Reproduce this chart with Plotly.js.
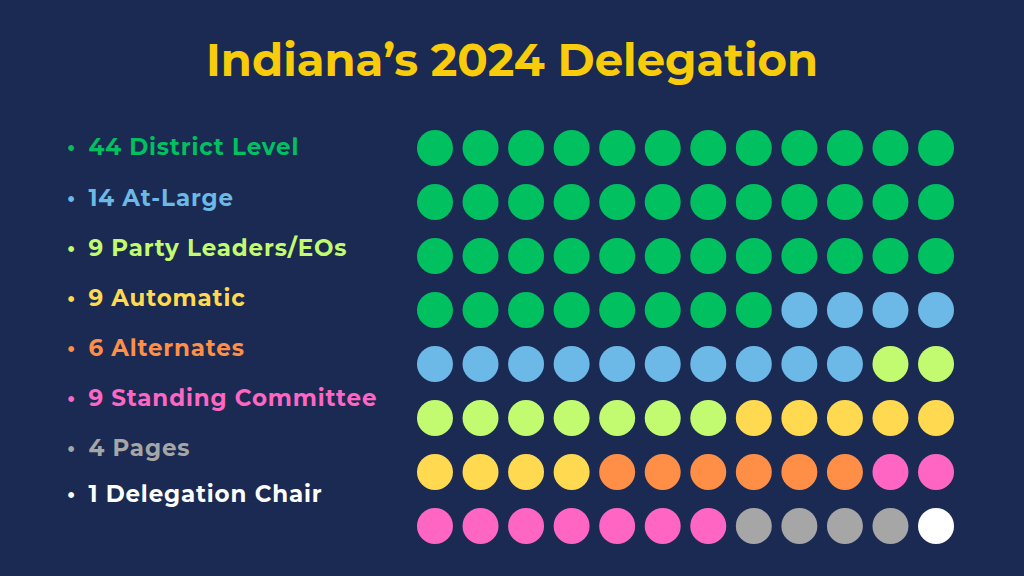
<!DOCTYPE html>
<html><head><meta charset="utf-8">
<script src="https://cdn.plot.ly/plotly-3.0.1.min.js"></script>
<style>html,body{margin:0;padding:0;background:#1a2a52;}#chart{width:1024px;height:576px;}
#chart .annotation-text{letter-spacing:0.85px;}</style>
</head><body><div id="chart"></div>
<script>
const categories = ["District Level","At-Large","Party Leaders/EOs","Automatic","Alternates","Standing Committee","Pages","Delegation Chair"];
const counts = [44,14,9,9,6,9,4,1];
const colors = ["#00c060","#6cb8e6","#c2fb70","#ffd94f","#ff8f47","#ff66c4","#a6a6a6","#ffffff"];
const columns = 12;

const traces = [];
let idx = 0;
categories.forEach((c,i)=>{
  const xs=[], ys=[];
  for(let k=0;k<counts[i];k++){ xs.push(idx%columns); ys.push(Math.floor(idx/columns)); idx++; }
  traces.push({type:'scatter',mode:'markers',x:xs,y:ys,name:c,
    marker:{size:36,color:colors[i],line:{width:0}},hoverinfo:'skip'});
});
const rows = Math.ceil(idx/columns);

const legendY = [147,198,248,298,348,398,448,494];
const annotations = categories.map((c,i)=>({
  xref:'paper',yref:'paper',x:65/1024,y:1-legendY[i]/576,xanchor:'left',yanchor:'middle',align:'left',
  text:'•\u2002'+counts[i]+' '+c,showarrow:false,
  font:{family:'Montserrat, "Open Sans", sans-serif',size:23,color:colors[i],weight:700}
}));

const layout = {
  width:1024,height:576,margin:{l:0,r:0,t:0,b:0},
  paper_bgcolor:'#1a2a52',plot_bgcolor:'#1a2a52',showlegend:false,
  title:{text:'Indiana’s 2024 Delegation',x:0.5,xanchor:'center',y:1-60/576,yanchor:'middle',
    font:{family:'Montserrat, "Open Sans", sans-serif',size:45,color:'#f8cc0a',weight:700}},
  xaxis:{domain:[412.2/1024,958.8/1024],range:[-0.5,columns-0.5],visible:false,fixedrange:true},
  yaxis:{domain:[23/576,455/576],range:[rows-0.5,-0.5],visible:false,fixedrange:true},
  annotations:annotations
};
Plotly.newPlot('chart',traces,layout,{displayModeBar:false,staticPlot:true});
</script></body></html>
